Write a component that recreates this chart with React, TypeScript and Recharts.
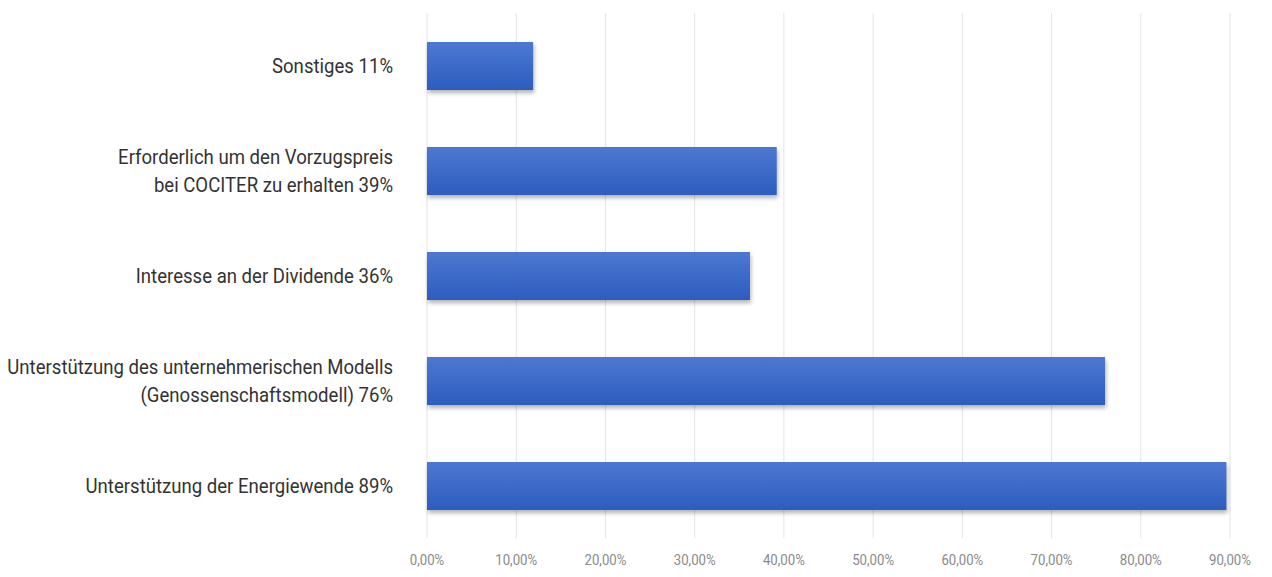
import { BarChart, Bar, XAxis, YAxis, CartesianGrid } from 'recharts';

const categories = [
  ['Sonstiges 11%'],
  ['Erforderlich um den Vorzugspreis', 'bei COCITER zu erhalten 39%'],
  ['Interesse an der Dividende 36%'],
  ['Unterstützung des unternehmerischen Modells', '(Genossenschaftsmodell) 76%'],
  ['Unterstützung der Energiewende 89%'],
];
const values = [11.9, 39.2, 36.2, 76.0, 89.6];
const xTicks = [0, 10, 20, 30, 40, 50, 60, 70, 80, 90];

const data = categories.map((lines, i) => ({ name: lines.join('|'), value: values[i] }));

const FONT = 'Roboto, "Noto Sans", sans-serif';

// the reference uses a condensed face; squeeze Roboto horizontally
function CategoryTick({ x, y, payload }: any) {
  const lines = String(payload.value).split('|');
  const lh = 28;
  const start = y - ((lines.length - 1) * lh) / 2;
  const sx = 0.885;
  return (
    <g transform={`translate(${x},0) scale(${sx},1)`}>
      <text x={0} y={start} textAnchor="end" fill="#333" fontFamily={FONT} fontSize={21}>
        {lines.map((l, i) => (
          <tspan key={i} x={0} y={start + i * lh} dy="0.36em">
            {l}
          </tspan>
        ))}
      </text>
    </g>
  );
}

function ValueTick({ x, y, payload }: any) {
  const label = Number(payload.value).toFixed(2).replace('.', ',') + '%';
  return (
    <g transform={`translate(${x},${y}) scale(0.88,1)`}>
      <text x={0} y={0} dy="0.71em" textAnchor="middle" fill="#8a8a8a" fontFamily={FONT} fontSize={15}>
        {label}
      </text>
    </g>
  );
}

export default function App() {
  return (
    <div style={{ position: 'absolute', left: 0, top: 0, background: '#fff' }}>
      <BarChart
        width={1272}
        height={577}
        data={data}
        layout="vertical"
        margin={{ top: 13, right: 42, bottom: 0, left: 0 }}
        barCategoryGap={28}
      >
        <defs>
          <linearGradient id="barFill" x1="0" y1="0" x2="0" y2="1">
            <stop offset="0%" stopColor="#4d78d2" />
            <stop offset="100%" stopColor="#2c5dbf" />
          </linearGradient>
          <filter id="shadow" x="-5%" y="-20%" width="110%" height="150%">
            <feDropShadow dx="1" dy="3" stdDeviation="2" floodColor="#000" floodOpacity="0.3" />
          </filter>
        </defs>
        <CartesianGrid horizontal={false} stroke="#e4e4e4" />
        <XAxis
          type="number"
          domain={[0, 90]}
          ticks={xTicks}
          axisLine={false}
          tickLine={false}
          height={39}
          tick={<ValueTick />}
          tickMargin={10}
        />
        <YAxis
          type="category"
          dataKey="name"
          width={427}
          axisLine={false}
          tickLine={false}
          tickMargin={28}
          tick={<CategoryTick />}
          interval={0}
        />
        <Bar dataKey="value" fill="url(#barFill)" barSize={48} filter="url(#shadow)" isAnimationActive={false} />
      </BarChart>
    </div>
  );
}
